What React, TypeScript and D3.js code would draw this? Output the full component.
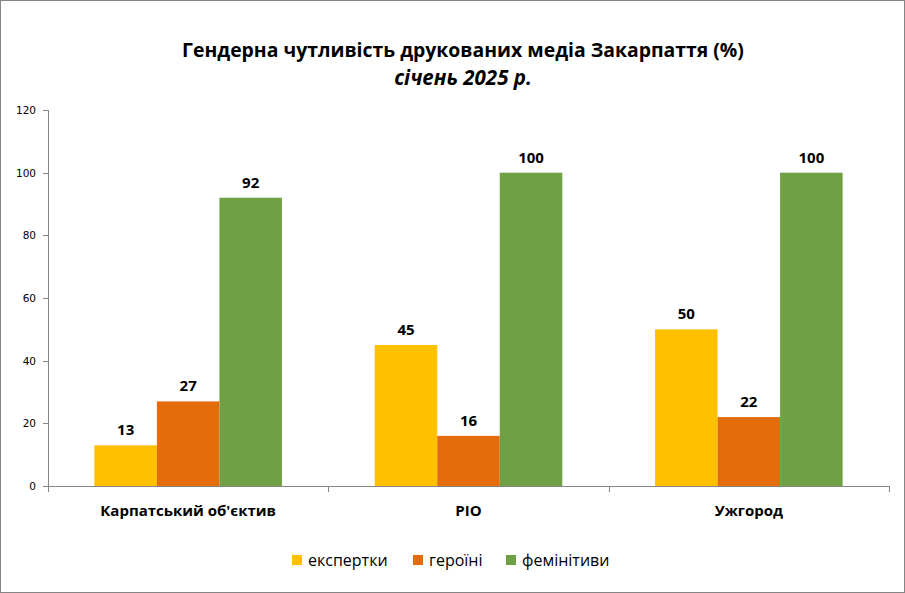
import { useRef, useEffect } from 'react';
import * as d3 from 'd3';

const categories = ['Карпатський об\'єктив', 'РІО', 'Ужгород'];
const seriesNames = ['експертки', 'героїні', 'фемінітиви'];
const seriesColors = ['#ffc000', '#e46c0a', '#70a044'];
const experts = [13, 45, 50];
const heroines = [27, 16, 22];
const feminitives = [92, 100, 100];
const yTicks = [0, 20, 40, 60, 80, 100, 120];

const W = 905;
const H = 593;

export default function App() {
  const svgRef = useRef<SVGSVGElement>(null);

  useEffect(() => {
    const svg = d3.select(svgRef.current);
    svg.selectAll('*').remove();

    const left = 48;
    const right = 889;
    const top = 110;
    const bottom = 486;
    const font = '"Open Sans", sans-serif';

    // frame
    svg.append('rect')
      .attr('x', 0.5).attr('y', 0.5)
      .attr('width', W - 1).attr('height', H - 1)
      .attr('fill', '#fff').attr('stroke', '#868686');

    // title
    svg.append('text')
      .attr('x', 463).attr('y', 57)
      .attr('text-anchor', 'middle')
      .attr('font-family', font).attr('font-weight', 'bold').attr('font-size', 19.4)
      .attr('fill', '#000')
      .text('Гендерна чутливість друкованих медіа Закарпаття (%)');
    svg.append('text')
      .attr('x', 463).attr('y', 85)
      .attr('text-anchor', 'middle')
      .attr('font-family', font).attr('font-weight', 'bold').attr('font-style', 'italic').attr('font-size', 20.5)
      .attr('fill', '#000')
      .text('січень 2025 р.');

    const y = d3.scaleLinear().domain([0, 120]).range([bottom, top]);
    const x0 = d3.scaleBand().domain(categories).range([left, right]).paddingInner(0).paddingOuter(0);
    const x1 = d3.scaleBand().domain(seriesNames).range([0, x0.bandwidth()]).paddingOuter(0.742).paddingInner(0);

    // y axis
    const g = svg.append('g');
    g.append('line')
      .attr('x1', left + 0.5).attr('x2', left + 0.5)
      .attr('y1', top).attr('y2', bottom)
      .attr('stroke', '#868686');
    g.selectAll('.ytick')
      .data(yTicks)
      .join('line')
      .attr('x1', left - 5).attr('x2', left)
      .attr('y1', (d) => Math.round(y(d)) + 0.5).attr('y2', (d) => Math.round(y(d)) + 0.5)
      .attr('stroke', '#868686');
    g.selectAll('.ylab')
      .data(yTicks)
      .join('text')
      .attr('x', left - 12).attr('y', (d) => y(d) + 4)
      .attr('text-anchor', 'end')
      .attr('font-family', 'Tahoma, "DejaVu Sans", sans-serif').attr('font-size', 10.5)
      .attr('fill', '#000')
      .text((d) => d);

    // bars
    const series = [experts, heroines, feminitives];
    series.forEach((vals, si) => {
      const name = seriesNames[si];
      svg.append('g')
        .selectAll('rect')
        .data(vals)
        .join('rect')
        .attr('x', (_, i) => (x0(categories[i]) as number) + (x1(name) as number))
        .attr('y', (d) => y(d))
        .attr('width', x1.bandwidth())
        .attr('height', (d) => bottom - y(d))
        .attr('fill', seriesColors[si]);
      svg.append('g')
        .selectAll('text')
        .data(vals)
        .join('text')
        .attr('x', (_, i) => (x0(categories[i]) as number) + (x1(name) as number) + x1.bandwidth() / 2)
        .attr('y', (d) => y(d) - 10)
        .attr('text-anchor', 'middle')
        .attr('font-family', font).attr('font-weight', 'bold').attr('font-size', 15)
        .attr('fill', '#000')
        .text((d) => d);
    });

    // x axis
    g.append('line')
      .attr('x1', left).attr('x2', right)
      .attr('y1', bottom + 0.5).attr('y2', bottom + 0.5)
      .attr('stroke', '#868686');
    const xTicks = [left, ...categories.map((c) => (x0(c) as number) + x0.bandwidth())];
    g.selectAll('.xtick')
      .data(xTicks)
      .join('line')
      .attr('x1', (d) => Math.round(d) + 0.5).attr('x2', (d) => Math.round(d) + 0.5)
      .attr('y1', bottom).attr('y2', bottom + 6)
      .attr('stroke', '#868686');
    g.selectAll('.xlab')
      .data(categories)
      .join('text')
      .attr('x', (d) => (x0(d) as number) + x0.bandwidth() / 2)
      .attr('y', 516)
      .attr('text-anchor', 'middle')
      .attr('font-family', font).attr('font-weight', 'bold').attr('font-size', 15)
      .attr('fill', '#000')
      .text((d) => d);

    // legend
    const legendX = [292, 413, 506];
    const legend = svg.append('g');
    seriesNames.forEach((name, i) => {
      legend.append('rect')
        .attr('x', legendX[i]).attr('y', 555)
        .attr('width', 10).attr('height', 10)
        .attr('fill', seriesColors[i]);
      legend.append('text')
        .attr('x', legendX[i] + 16).attr('y', 566)
        .attr('font-family', font).attr('font-size', 16)
        .attr('fill', '#000')
        .text(name);
    });
  }, []);

  return (
    <svg
      ref={svgRef}
      width={W}
      height={H}
      style={{ position: 'absolute', left: 0, top: 0, display: 'block' }}
    />
  );
}
